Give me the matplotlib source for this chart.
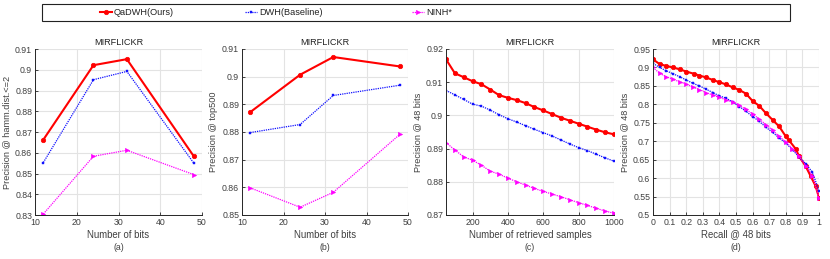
import numpy as np
import matplotlib
matplotlib.use('Agg')
import matplotlib.pyplot as plt
from matplotlib.lines import Line2D
from matplotlib.patches import Rectangle
from matplotlib.ticker import FuncFormatter

plt.rcParams['font.family'] = ['Liberation Sans', 'DejaVu Sans']

# ---- data ----
bits = [12, 24, 32, 48]

# (a) precision @ hamming dist <= 2
ham_qadwh = [0.8663, 0.9022, 0.9051, 0.8584]
ham_dwh = [0.8553, 0.8952, 0.8992, 0.8551]
ham_ninh = [0.8305, 0.8583, 0.8612, 0.8495]

# (b) precision @ top500
top_qadwh = [0.8872, 0.9007, 0.9071, 0.9037]
top_dwh = [0.8798, 0.8827, 0.8932, 0.8969]
top_ninh = [0.8598, 0.8528, 0.8582, 0.8791]

# (c) precision vs number of retrieved samples (48 bits)
n_retrieved = [50, 100, 150, 200, 250, 300, 350, 400, 450, 500,
               550, 600, 650, 700, 750, 800, 850, 900, 950, 1000]
ret_qadwh = [0.9169, 0.9127, 0.9115, 0.9103, 0.9094, 0.9078, 0.9061, 0.9053, 0.9046, 0.9037,
             0.9025, 0.9015, 0.9004, 0.8993, 0.8984, 0.8975, 0.8966, 0.8957, 0.8949, 0.8943]
ret_dwh = [0.9075, 0.9062, 0.9048, 0.9034, 0.9028, 0.9016, 0.9002, 0.8990, 0.8980, 0.8969,
           0.8958, 0.8948, 0.8938, 0.8926, 0.8914, 0.8903, 0.8894, 0.8883, 0.8872, 0.8862]
ret_ninh = [0.8918, 0.8896, 0.8875, 0.8865, 0.8850, 0.8832, 0.8823, 0.8811, 0.8800, 0.8790,
            0.8780, 0.8771, 0.8763, 0.8755, 0.8746, 0.8737, 0.8729, 0.8720, 0.8712, 0.8705]

# (d) precision-recall curves (48 bits)
rec_qadwh = [0.0, 0.04, 0.08, 0.12, 0.16, 0.20, 0.245, 0.28, 0.32, 0.36, 0.40, 0.44, 0.48,
             0.52, 0.56, 0.60, 0.64, 0.68, 0.72, 0.76, 0.80, 0.82, 0.86, 0.88, 0.92, 0.95, 0.98, 1.0]
pre_qadwh = [0.922, 0.909, 0.904, 0.900, 0.895, 0.889, 0.883, 0.878, 0.873, 0.866, 0.860, 0.854, 0.846,
             0.839, 0.829, 0.809, 0.796, 0.776, 0.758, 0.740, 0.713, 0.702, 0.679, 0.659, 0.632, 0.605, 0.578, 0.547]
rec_dwh = [0.0, 0.04, 0.08, 0.12, 0.16, 0.20, 0.24, 0.28, 0.32, 0.36, 0.40, 0.44, 0.48,
           0.52, 0.56, 0.60, 0.64, 0.68, 0.72, 0.76, 0.80, 0.84, 0.88, 0.92, 0.96, 1.0]
pre_dwh = [0.911, 0.900, 0.891, 0.883, 0.875, 0.866, 0.857, 0.850, 0.841, 0.832, 0.823, 0.817, 0.806,
           0.794, 0.781, 0.767, 0.754, 0.738, 0.724, 0.709, 0.695, 0.677, 0.657, 0.639, 0.616, 0.566]
rec_ninh = [0.0, 0.04, 0.08, 0.12, 0.16, 0.20, 0.24, 0.28, 0.32, 0.36, 0.40, 0.44, 0.48,
            0.52, 0.56, 0.60, 0.64, 0.68, 0.72, 0.76, 0.80, 0.84, 0.88, 0.92, 0.96, 1.0]
pre_ninh = [0.900, 0.884, 0.875, 0.868, 0.861, 0.855, 0.847, 0.840, 0.832, 0.825, 0.819, 0.812, 0.806,
            0.797, 0.786, 0.774, 0.760, 0.745, 0.730, 0.713, 0.698, 0.680, 0.659, 0.634, 0.607, 0.547]

labels = ['QaDWH(Ours)', 'DWH(Baseline)', 'NINH*']

TXT = '#404040'
FS = 6.3

STY = [
    dict(color='#ff0000', lw=1.5, ls='-', marker='o', ms=3.2, mew=0.5),
    dict(color='#1010ff', lw=0.9, ls=(0, (1, 0.8)), marker='s', ms=2.0, mew=0.3),
    dict(color='#ff00ff', lw=0.9, ls=(0, (1, 0.8)), marker='>', ms=3.2, mew=0.3),
]

fig = plt.figure(figsize=(8.30, 2.59), dpi=100)

W, H = 830, 259
def ax_at(l, r, t, b):
    return fig.add_axes([l / W, 1 - b / H, (r - l) / W, (b - t) / H])

def fmt(v, p):
    return ('%.2f' % v).rstrip('0').rstrip('.')

def style(ax, xlabel, ylabel, tag):
    ax.set_title('MIRFLICKR', fontsize=FS + 0.3, color='#222222', pad=3)
    ax.set_xlabel(xlabel, fontsize=FS + 0.6, color=TXT, labelpad=2)
    ax.set_ylabel(ylabel, fontsize=FS + 0.3, color=TXT, labelpad=3)
    ax.text(0.5, -0.17, tag, transform=ax.transAxes, ha='center', va='top',
            fontsize=FS, color=TXT)
    ax.grid(True, color='#e3e3e3', lw=0.8)
    ax.set_axisbelow(True)
    for s in ['top', 'right']:
        ax.spines[s].set_visible(False)
    for s in ['left', 'bottom']:
        ax.spines[s].set_color('#262626')
        ax.spines[s].set_linewidth(0.7)
    ax.tick_params(direction='in', length=2, width=0.6, labelsize=FS,
                   labelcolor=TXT, colors='#262626', pad=2)
    for lab in ax.get_xticklabels() + ax.get_yticklabels():
        lab.set_color(TXT)

# (a)
ax = ax_at(35, 202, 49, 215)
for y, st in zip([ham_qadwh, ham_dwh, ham_ninh], STY):
    ax.plot(bits, y, **st)
ax.set_xlim(10, 50)
ax.set_ylim(0.83, 0.91)
ax.set_xticks([10, 20, 30, 40, 50])
ax.set_yticks(np.arange(0.83, 0.9101, 0.01))
ax.yaxis.set_major_formatter(FuncFormatter(fmt))
style(ax, 'Number of bits', 'Precision @ hamm.dist.<=2', '(a)')

# (b)
ax = ax_at(242, 408, 49, 215)
for y, st in zip([top_qadwh, top_dwh, top_ninh], STY):
    ax.plot(bits, y, **st)
ax.set_xlim(10, 50)
ax.set_ylim(0.85, 0.91)
ax.set_xticks([10, 20, 30, 40, 50])
ax.set_yticks(np.arange(0.85, 0.9101, 0.01))
ax.yaxis.set_major_formatter(FuncFormatter(fmt))
style(ax, 'Number of bits', 'Precision @ top500', '(b)')

# (c)
ax = ax_at(446, 614, 49, 215)
for y, st in zip([ret_qadwh, ret_dwh, ret_ninh], STY):
    ax.plot(n_retrieved, y, **st)
ax.set_xlim(50, 1000)
ax.set_ylim(0.87, 0.92)
ax.set_xticks([200, 400, 600, 800, 1000])
ax.set_yticks(np.arange(0.87, 0.9201, 0.01))
ax.yaxis.set_major_formatter(FuncFormatter(fmt))
style(ax, 'Number of retrieved samples', 'Precision @ 48 bits', '(c)')

# (d)
ax = ax_at(653, 819, 49, 215)
for x, y, st in zip([rec_qadwh, rec_dwh, rec_ninh], [pre_qadwh, pre_dwh, pre_ninh], STY):
    ax.plot(x, y, **st)
ax.set_xlim(0, 1)
ax.set_ylim(0.5, 0.95)
ax.set_xticks(np.arange(0, 1.001, 0.1))
ax.set_yticks(np.arange(0.5, 0.951, 0.05))
ax.xaxis.set_major_formatter(FuncFormatter(fmt))
ax.yaxis.set_major_formatter(FuncFormatter(fmt))
style(ax, 'Recall @ 48 bits', 'Precision @ 48 bits', '(d)')

# legend box across the top
fig.patches.append(Rectangle((42 / W, 1 - 21 / H), 748 / W, 17 / H, transform=fig.transFigure,
                             fill=False, edgecolor='#222222', lw=0.8))
for x0, lab, st in zip([100, 245, 412], labels, STY):
    h = Line2D([], [], **st)
    fig.legend(handles=[h], labels=[lab], loc='center left',
               bbox_to_anchor=(x0 / W, 1 - 12.5 / H), frameon=False, fontsize=FS + 0.3,
               handlelength=1.3, handletextpad=0.2, borderpad=0, borderaxespad=0,
               labelcolor='#222222')

fig.savefig('out.png', dpi=100)
